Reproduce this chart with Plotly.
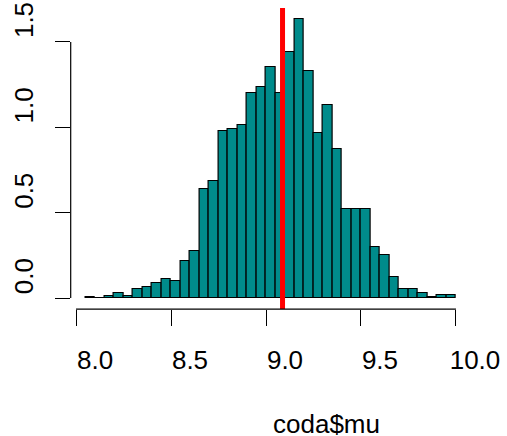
import plotly.graph_objects as go

# Histogram (density) of coda$mu, bins of width 0.05 from 8.05 to 10.00
bin_left = [round(8.05 + 0.05 * i, 2) for i in range(39)]
bin_width = 0.05
density = [0.008, 0.002, 0.010, 0.027, 0.010, 0.053, 0.066, 0.088, 0.113, 0.100,
           0.217, 0.275, 0.639, 0.685, 0.978, 0.990, 1.012, 1.199, 1.234, 1.351,
           1.199, 1.443, 1.633, 1.330, 0.965, 1.129, 0.871, 0.520, 0.520, 0.523,
           0.301, 0.252, 0.121, 0.051, 0.051, 0.031, 0.008, 0.018, 0.018]
mu_mean = 9.087

x_ticks = [8.0, 8.5, 9.0, 9.5, 10.0]
x_tick_labels = ["8.0", "8.5", "9.0", "9.5", "10.0"]
y_ticks = [0.0, 0.5, 1.0, 1.5]
y_tick_labels = ["0.0", "0.5", "1.0", "1.5"]
x_label = "coda$mu"

W, H = 507, 436
x_range = [7.972, 10.078]
y_range = [-0.065, 1.698]
xdom = [70.7 / W, 470.8 / W]
ydom = [(H - 309.1) / H, (H - 8.1) / H]

font = dict(family="Liberation Sans, Arial, Helvetica, sans-serif", size=26, color="black")

fig = go.Figure()
fig.add_trace(go.Bar(
    x=[l + bin_width / 2 for l in bin_left],
    y=density,
    width=[bin_width] * len(bin_left),
    marker=dict(color="#008B8B", line=dict(color="black", width=1.2)),
    hoverinfo="skip",
))
fig.add_trace(go.Scatter(
    x=[mu_mean, mu_mean], y=y_range, mode="lines",
    line=dict(color="#FF0000", width=5), hoverinfo="skip",
))

fig.update_layout(
    width=W, height=H,
    margin=dict(l=0, r=0, t=0, b=0, autoexpand=False),
    paper_bgcolor="white", plot_bgcolor="white",
    showlegend=False, bargap=0,
    font=font,
    xaxis=dict(domain=xdom, range=x_range, showgrid=False, zeroline=False, showline=False,
               automargin=False,
               tickmode="array", tickvals=x_ticks, ticktext=x_tick_labels,
               ticks="outside", ticklen=16, tickwidth=1.2, tickcolor="black",
               ticklabelstandoff=12, ticklabelshift=19, tickfont=font),
    yaxis=dict(domain=ydom, range=y_range, showgrid=False, zeroline=False, showline=False,
               automargin=False,
               tickmode="array", tickvals=y_ticks, ticktext=y_tick_labels,
               ticks="outside", ticklen=15, tickwidth=1.2, tickcolor="black",
               tickangle=-90, ticklabelstandoff=11, ticklabelshift=-18, tickfont=font),
    shapes=[
        dict(type="line", xref="x", yref="paper", x0=x_ticks[0], x1=x_ticks[-1],
             y0=ydom[0], y1=ydom[0], line=dict(color="black", width=1.2)),
        dict(type="line", xref="paper", yref="y", x0=xdom[0], x1=xdom[0],
             y0=y_ticks[0], y1=y_ticks[-1], line=dict(color="black", width=1.2)),
    ],
    annotations=[
        dict(text=x_label, xref="paper", yref="paper", x=271 / W, y=(H - 424) / H,
             showarrow=False, xanchor="left", yanchor="middle", height=22,
             valign="middle", font=font),
    ],
)

fig.write_html("out.html")
